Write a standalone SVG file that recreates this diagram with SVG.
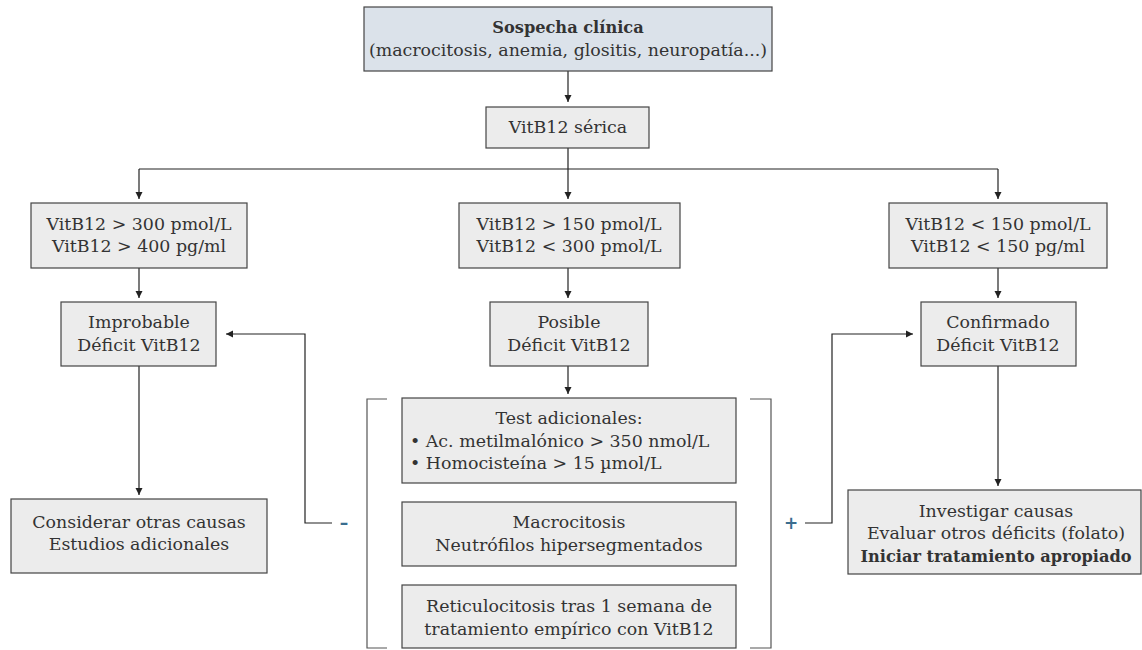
<svg xmlns="http://www.w3.org/2000/svg" width="1142" height="650" viewBox="0 0 1142 650">
<defs>
<marker id="ah" markerUnits="userSpaceOnUse" markerWidth="8" markerHeight="8" refX="7" refY="4" orient="auto">
<path d="M0,0.5 L7,4 L0,7.5 z" fill="#222"/>
</marker>
<style>
.box{fill:#ececec;stroke:#444;stroke-width:1.2}
.top{fill:#dbe2ea;stroke:#444;stroke-width:1.2}
text{font-family:"DejaVu Serif","Liberation Serif",serif;font-size:17.4px;fill:#333;text-anchor:middle}
.b{font-weight:bold;font-size:16.2px}
.l{text-anchor:start}
.ln{fill:none;stroke:#222;stroke-width:1.2}
.br{fill:none;stroke:#555;stroke-width:1.2}
.sg{fill:#3a6d8f;font-family:"DejaVu Sans","Liberation Sans",sans-serif;font-weight:bold;font-size:17px}
</style>
</defs>
<rect width="1142" height="650" fill="#fff"/>
<g id="connectors">
<path class="ln" d="M568,71 V102" marker-end="url(#ah)"/>
<path class="ln" d="M568,148 V169 M139,169 H998"/>
<path class="ln" d="M139,169 V199" marker-end="url(#ah)"/>
<path class="ln" d="M568,169 V199" marker-end="url(#ah)"/>
<path class="ln" d="M998,169 V199" marker-end="url(#ah)"/>
<path class="ln" d="M139,268 V298" marker-end="url(#ah)"/>
<path class="ln" d="M568,268 V298" marker-end="url(#ah)"/>
<path class="ln" d="M998,268 V298" marker-end="url(#ah)"/>
<path class="ln" d="M139,366 V495" marker-end="url(#ah)"/>
<path class="ln" d="M568,366 V394" marker-end="url(#ah)"/>
<path class="ln" d="M998,366 V486" marker-end="url(#ah)"/>
<path class="ln" d="M332,523 H305 V334 H226" marker-end="url(#ah)"/>
<path class="ln" d="M805,523 H832 V334 H913" marker-end="url(#ah)"/>
<path class="br" d="M387,399 H367 V648 H387"/>
<path class="br" d="M750,399 H771 V648 H750"/>
<text class="sg" x="344" y="529">–</text>
<text class="sg" x="791" y="529">+</text>
</g>
<g id="n-sospecha">
<rect class="top" x="364" y="7" width="408" height="64"/>
<text class="b" x="568" y="33">Sospecha clínica</text>
<text x="568" y="56">(macrocitosis, anemia, glositis, neuropatía...)</text>
</g>
<g id="n-serica">
<rect class="box" x="486" y="107" width="163" height="41"/>
<text x="568" y="133">VitB12 sérica</text>
</g>
<g id="n-alto">
<rect class="box" x="31" y="203" width="216" height="65"/>
<text x="139" y="230">VitB12 &gt; 300 pmol/L</text>
<text x="139" y="252">VitB12 &gt; 400 pg/ml</text>
</g>
<g id="n-medio">
<rect class="box" x="459" y="203" width="221" height="65"/>
<text x="569" y="230">VitB12 &gt; 150 pmol/L</text>
<text x="569" y="252">VitB12 &lt; 300 pmol/L</text>
</g>
<g id="n-bajo">
<rect class="box" x="889" y="203" width="218" height="65"/>
<text x="998" y="230">VitB12 &lt; 150 pmol/L</text>
<text x="998" y="252">VitB12 &lt; 150 pg/ml</text>
</g>
<g id="n-improbable">
<rect class="box" x="61" y="302" width="155" height="64"/>
<text x="139" y="328">Improbable</text>
<text x="139" y="351">Déficit VitB12</text>
</g>
<g id="n-posible">
<rect class="box" x="490" y="302" width="158" height="64"/>
<text x="569" y="328">Posible</text>
<text x="569" y="351">Déficit VitB12</text>
</g>
<g id="n-confirmado">
<rect class="box" x="921" y="302" width="155" height="64"/>
<text x="998" y="328">Confirmado</text>
<text x="998" y="351">Déficit VitB12</text>
</g>
<g id="n-test">
<rect class="box" x="402" y="398" width="334" height="85"/>
<text x="569" y="424">Test adicionales:</text>
<text class="l" x="410" y="447">• Ac. metilmalónico &gt; 350 nmol/L</text>
<text class="l" x="410" y="469">• Homocisteína &gt; 15 µmol/L</text>
</g>
<g id="n-macro">
<rect class="box" x="402" y="502" width="334" height="64"/>
<text x="569" y="528">Macrocitosis</text>
<text x="569" y="551">Neutrófilos hipersegmentados</text>
</g>
<g id="n-retic">
<rect class="box" x="402" y="585" width="334" height="63"/>
<text x="569" y="612">Reticulocitosis tras 1 semana de</text>
<text x="569" y="635">tratamiento empírico con VitB12</text>
</g>
<g id="n-considerar">
<rect class="box" x="11" y="499" width="256" height="74"/>
<text x="139" y="528">Considerar otras causas</text>
<text x="139" y="550">Estudios adicionales</text>
</g>
<g id="n-investigar">
<rect class="box" x="848" y="490" width="293" height="84"/>
<text x="996" y="517">Investigar causas</text>
<text x="996" y="539">Evaluar otros déficits (folato)</text>
<text class="b" x="996" y="562">Iniciar tratamiento apropiado</text>
</g>
</svg>
